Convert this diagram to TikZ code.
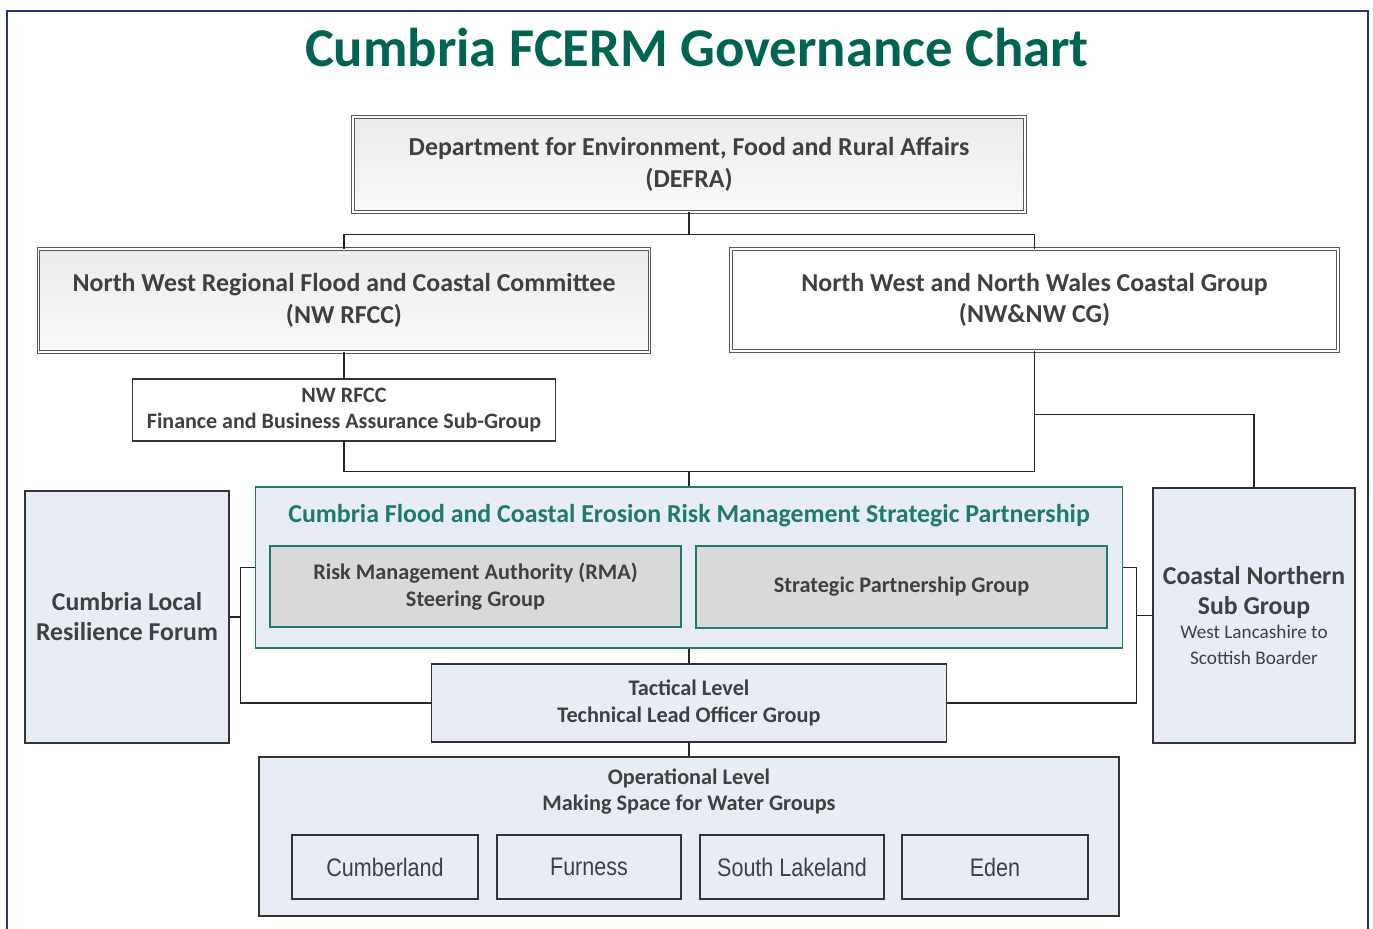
\documentclass[tikz,border=0pt]{standalone}
\usepackage{fontspec}
\setmainfont{Carlito}
\newfontfamily\narrowsans[FakeStretch=0.85]{Liberation Sans}
\usetikzlibrary{shadows}

\definecolor{framenavy}{RGB}{31,56,120}
\definecolor{titlegreen}{RGB}{0,100,82}
\definecolor{partteal}{RGB}{30,122,106}
\definecolor{boxtext}{RGB}{64,64,64}
\definecolor{paleblue}{RGB}{231,236,245}
\definecolor{midgray}{RGB}{217,217,217}

\tikzset{
	boxwh/.style 2 args={minimum width={#1*0.75pt}, minimum height={#2*0.75pt}},
	orgbox/.style={draw=black!80, line width=0.9pt, fill=paleblue, inner sep=0pt,
		align=center, text=boxtext, font=\fontsize{16.7}{20}\selectfont\bfseries},
	dblbox/.style={orgbox, draw=black!65, double=white, double distance=1.1pt,
		line width=0.7pt, font=\fontsize{19.4}{23.5}\selectfont\bfseries,
		drop shadow={shadow xshift=1.2pt, shadow yshift=-1.2pt, opacity=0.25}},
	areabox/.style={orgbox, font=\fontsize{19.3}{22.5}\selectfont\bfseries},
	councilbox/.style={orgbox, font=\narrowsans\fontsize{19}{22}\selectfont},
	link/.style={line width=0.9pt, black!85},
}

\begin{document}
\begin{tikzpicture}[x=0.75pt, y=-0.75pt]
			\useasboundingbox (0,0) rectangle (1373,928);
			
			% frame and heading
			\draw[framenavy, line width=2.2pt] (7,940) |- (1368,11) -- (1368,940);
			\node[font=\fontsize{41}{48}\selectfont\bfseries, text=titlegreen] (title) at (697,48) {Cumbria FCERM Governance Chart};
			
			% national and regional level
			\node[dblbox, top color=gray!15, bottom color=gray!4, boxwh={672}{95}] (defra) at (689,164.5) {Department for Environment, Food and Rural Affairs\\(DEFRA)};
			\node[dblbox, top color=gray!15, bottom color=gray!4, boxwh={611}{103}] (rfcc) at (344,300.5) {North West Regional Flood and Coastal Committee\\(NW RFCC)};
			\node[dblbox, fill=white, boxwh={607}{102}] (nwcg) at (1034.5,300) {North West and North Wales Coastal Group\\(NW\&NW CG)};
			\node[orgbox, fill=white, boxwh={423}{62}, font=\fontsize{16.5}{20}\selectfont\bfseries] (subgrp) at (344,410) {NW RFCC\\Finance and Business Assurance Sub-Group};
			
			% strategic partnership
			\node[orgbox, draw=partteal, line width=1pt, boxwh={867}{161}] (partner) at (689,567.5) {};
			\node[font=\fontsize{19.4}{22}\selectfont\bfseries, text=partteal] (ptitle) at (689,516) {Cumbria Flood and Coastal Erosion Risk Management Strategic Partnership};
			\node[orgbox, draw=partteal, fill=midgray, boxwh={411}{81}] (rma) at (475.5,586.5) {Risk Management Authority (RMA)\\Steering Group};
			\node[orgbox, draw=partteal, fill=midgray, boxwh={411}{82}] (spg) at (901.5,587) {Strategic Partnership Group};
			
			% side groups
			\node[areabox, boxwh={204}{252}] (lrf) at (127,617) {Cumbria Local\\Resilience Forum};
			\node[areabox, boxwh={202}{255}] (cnsg) at (1254,615.5) {Coastal Northern\\Sub Group\\[-4pt]{\fontsize{14.4}{16.5}\selectfont\mdseries West Lancashire to}\\[-3pt]{\fontsize{14.4}{16.5}\selectfont\mdseries Scottish Boarder}};
			
			% tactical and operational level
			\node[orgbox, boxwh={515}{78}] (tactical) at (689,703) {Tactical Level\\Technical Lead Officer Group};
			\node[orgbox, boxwh={860}{159}] (oper) at (689,836.5) {};
			\node[align=center, text=boxtext, font=\fontsize{16.7}{20}\selectfont\bfseries] (optext) at (689,791.5) {Operational Level\\Making Space for Water Groups};
			\node[councilbox, boxwh={186}{64}] (cumb) at (385,867) {Cumberland};
			\node[councilbox, boxwh={184}{64}] (furn) at (589,867) {Furness};
			\node[councilbox, boxwh={184}{64}] (slak) at (792,867) {South Lakeland};
			\node[councilbox, boxwh={186}{64}] (eden) at (995,867) {Eden};
			
			% connectors
			\draw[link] (defra.south) -- ++(0,22) -| (rfcc.north);
			\draw[link] (defra.south) -- ++(0,22) -| (nwcg.north);
			\draw[link] (rfcc.south) -- (subgrp.north);
			\draw[link] (subgrp.south) -- ++(0,30) coordinate (busmid) -| (nwcg.south);
			\draw[link] (busmid -| partner.north) -- (partner.north);
			\draw[link] (nwcg.south) -- ++(0,63) -| (cnsg.north);
			
			\draw[link] (lrf.east) -- ++(11,0) coordinate (lbus);
			\draw[link] (partner.west) -| (lbus) |- (tactical.west);
			\draw[link] (cnsg.west) -- ++(-16,0) coordinate (rbus);
			\draw[link] (partner.east) -| (rbus) |- (tactical.east);
			
			\draw[link] (partner.south) -- (tactical.north);
			\draw[link] (tactical.south) -- (oper.north);
			
\end{tikzpicture}
\end{document}
